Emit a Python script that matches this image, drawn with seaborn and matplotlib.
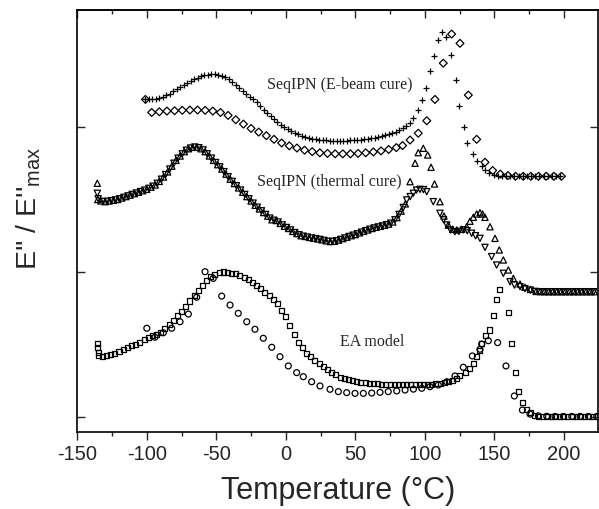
import numpy as np
import pandas as pd
import matplotlib
matplotlib.use("Agg")
import matplotlib.pyplot as plt
import seaborn as sns
from matplotlib.ticker import MultipleLocator, NullFormatter

# ---------------- data ----------------
# SeqIPN (E-beam cure), "+" series
ebeam_plus_T = [-101, -98.5, -96, -93.5, -91, -88.5, -86, -83.5, -81, -78.5, -76, -73.5, -71, -68.5,
                -66, -63.5, -61, -58.5, -56, -53.5, -51, -48.5, -46, -43.5, -41, -38.5, -36, -33.5,
                -31, -28.5, -26, -23.5, -21, -18.5, -16, -13.5, -11, -8.5, -6, -3.5, -1, 1.5, 4, 6.5,
                9, 11.5, 14, 16.5, 19, 21.5, 24, 26.5, 29, 31.5, 34, 36.5, 39, 41.5, 44, 46.5, 49,
                51.5, 54, 56.5, 59, 61.5, 64, 66.5, 69, 71.5, 74, 76.5, 79, 81.5, 84, 86.5, 89, 91.8,
                95.3, 97.8, 100.6, 103.7, 106.6, 109.7, 112.2, 115.3, 118.6, 122.4, 124.8, 128.2,
                130.6, 134.5, 137.3, 140.9, 143.5, 146.5, 149.5, 152.5, 155.5, 158.5, 161.5, 164.5,
                167.5, 170.5, 173.5, 176.5, 179.5, 182.5, 185.5, 188.5, 191.5, 194.5, 197.5]
ebeam_plus_v = [2.19, 2.19, 2.192, 2.195, 2.20, 2.21, 2.22, 2.23, 2.245, 2.26, 2.275, 2.29, 2.305, 2.32,
                2.33, 2.34, 2.35, 2.357, 2.362, 2.366, 2.366, 2.362, 2.355, 2.343, 2.33, 2.31, 2.29, 2.27,
                2.25, 2.23, 2.21, 2.19, 2.17, 2.145, 2.12, 2.10, 2.075, 2.055, 2.035, 2.015, 2.0, 1.985,
                1.972, 1.96, 1.95, 1.94, 1.932, 1.925, 1.92, 1.915, 1.912, 1.91, 1.908, 1.906, 1.905,
                1.905, 1.905, 1.905, 1.906, 1.907, 1.908, 1.91, 1.912, 1.915, 1.918, 1.922, 1.926, 1.93,
                1.936, 1.942, 1.95, 1.958, 1.968, 1.98, 1.995, 2.01, 2.03, 2.06, 2.117, 2.186, 2.27,
                2.388, 2.49, 2.60, 2.653, 2.623, 2.497, 2.324, 2.145, 2.002, 1.887, 1.812, 1.768, 1.731,
                1.705, 1.685, 1.672, 1.665, 1.662, 1.66, 1.66, 1.66, 1.66, 1.66, 1.66, 1.66, 1.66,
                1.66, 1.66, 1.66, 1.66, 1.66, 1.66]

# SeqIPN (E-beam cure), diamond series
ebeam_dia_T = [-101, -96.5, -91, -85.5, -80, -74.5, -69, -63.5, -58, -52.5, -47, -41.5, -36, -30.5, -25,
               -19.5, -14, -8.5, -3, 2.5, 8, 13.5, 19, 24.5, 30, 35.5, 41, 46.5, 52, 57.5, 63, 68.5, 74,
               79.5, 84, 89.4, 95.3, 101.4, 107.3, 113.3, 119.3, 125.3, 131.3, 137.3, 143.3, 148.8,
               154.3, 159.8, 165.3, 170.8, 176.3, 181.8, 187.3, 192.8, 198.3]
ebeam_dia_v = [2.19, 2.10, 2.105, 2.11, 2.112, 2.115, 2.117, 2.117, 2.115, 2.11, 2.10, 2.08, 2.05, 2.02,
               1.99, 1.965, 1.94, 1.915, 1.89, 1.87, 1.855, 1.84, 1.83, 1.822, 1.818, 1.815, 1.815, 1.815,
               1.818, 1.822, 1.828, 1.835, 1.845, 1.858, 1.872, 1.91, 1.957, 2.043, 2.19, 2.44, 2.641,
               2.577, 2.22, 1.915, 1.757, 1.70, 1.675, 1.665, 1.66, 1.66, 1.66, 1.66, 1.66, 1.66, 1.66]

# SeqIPN (thermal cure), up-triangle series
thermal_up_T = [-135.6, -135.3, -133, -130, -127, -124, -121, -118, -115, -112, -109, -106, -103, -100,
                -97, -94, -91, -88, -85, -82, -79, -76, -73, -70, -67, -64, -61, -58, -55, -52, -49, -46,
                -43, -40, -37, -34, -31, -28, -25, -22, -19, -16, -13, -10, -7, -4, -1, 2, 5, 8, 11, 14,
                17, 20, 23, 26, 29, 32, 35, 38, 41, 44, 47, 50, 53, 56, 59, 62, 65, 68, 71, 74, 77, 80,
                83, 86, 89.4, 93, 95.3, 98.9, 102.1, 104.5, 107, 110.9, 113.8, 116.9, 120, 123, 126.5,
                130.1, 132.5, 134.9, 137.3, 139.7, 141.5, 143.3, 146.9, 150.5, 153.6, 156.5, 160.1,
                163.7, 168.5, 172, 176, 180, 183, 186, 189, 192, 195, 198, 201, 204, 207, 210, 213, 216,
                219, 222]
thermal_up_v = [1.612, 1.50, 1.49, 1.485, 1.49, 1.495, 1.50, 1.51, 1.52, 1.53, 1.54, 1.55, 1.56, 1.57,
                1.585, 1.60, 1.625, 1.655, 1.69, 1.73, 1.77, 1.80, 1.83, 1.85, 1.86, 1.86, 1.85, 1.83,
                1.80, 1.77, 1.74, 1.71, 1.675, 1.64, 1.61, 1.58, 1.55, 1.52, 1.49, 1.46, 1.435, 1.41,
                1.385, 1.36, 1.355, 1.335, 1.315, 1.30, 1.28, 1.265, 1.25, 1.245, 1.238, 1.233, 1.228,
                1.222, 1.215, 1.21, 1.212, 1.22, 1.23, 1.24, 1.25, 1.258, 1.27, 1.28, 1.29, 1.30, 1.308,
                1.315, 1.322, 1.33, 1.345, 1.375, 1.42, 1.47, 1.623, 1.75, 1.823, 1.853, 1.807, 1.722,
                1.607, 1.485, 1.386, 1.324, 1.295, 1.29, 1.295, 1.312, 1.35, 1.377, 1.40, 1.409, 1.40,
                1.377, 1.312, 1.232, 1.152, 1.083, 1.014, 0.956, 0.917, 0.895, 0.88, 0.866, 0.865, 0.864,
                0.864, 0.864, 0.864, 0.864, 0.864, 0.864, 0.864, 0.864, 0.864, 0.864, 0.864, 0.864]

# SeqIPN (thermal cure), down-triangle series
thermal_down_T = [-135.6, -135.0, -131.5, -128.5, -125.5, -122.5, -119.5, -116.5, -113.5, -110.5, -107.5,
                  -104.5, -101.5, -98.5, -95.5, -92.5, -89.5, -86.5, -83.5, -80.5, -77.5, -74.5, -71.5,
                  -68.5, -65.5, -62.5, -59.5, -56.5, -53.5, -50.5, -47.5, -44.5, -41.5, -38.5, -35.5,
                  -32.5, -29.5, -26.5, -23.5, -20.5, -17.5, -14.5, -11.5, -8.5, -5.5, -2.5, 0.5, 3.5, 6.5,
                  9.5, 12.5, 15.5, 18.5, 21.5, 24.5, 27.5, 30.5, 33.5, 36.5, 39.5, 42.5, 45.5, 48.5, 51.5,
                  54.5, 57.5, 60.5, 63.5, 66.5, 69.5, 72.5, 75.5, 78.5, 81.5, 84.5, 87, 89.5, 91.7, 94,
                  96.5, 99, 101.4, 106.1, 110.9, 113.5, 115.8, 118.5, 121.7, 124.5, 127.7, 130.5, 133.7,
                  136.5, 139.7, 143.3, 148.1, 151.7, 156.5, 161.3, 164.5, 168.5, 172, 176, 179.5, 182.5,
                  185.5, 188.5, 191.5, 194.5, 197.5, 200.5, 203.5, 206.5, 209.5, 212.5, 215.5, 218.5, 221.5]
thermal_down_v = [1.543, 1.505, 1.487, 1.487, 1.492, 1.497, 1.505, 1.515, 1.525, 1.535, 1.545, 1.555,
                  1.565, 1.577, 1.592, 1.612, 1.64, 1.672, 1.71, 1.75, 1.785, 1.815, 1.84, 1.855, 1.862,
                  1.857, 1.842, 1.815, 1.785, 1.755, 1.725, 1.692, 1.657, 1.625, 1.595, 1.565, 1.535,
                  1.505, 1.475, 1.447, 1.422, 1.397, 1.372, 1.357, 1.345, 1.325, 1.307, 1.29, 1.272,
                  1.257, 1.247, 1.241, 1.235, 1.23, 1.225, 1.218, 1.212, 1.211, 1.216, 1.225, 1.235,
                  1.245, 1.254, 1.264, 1.275, 1.285, 1.295, 1.304, 1.311, 1.318, 1.326, 1.337, 1.36,
                  1.397, 1.445, 1.497, 1.52, 1.543, 1.565, 1.57, 1.568, 1.554, 1.485, 1.405, 1.36, 1.324,
                  1.29, 1.278, 1.28, 1.29, 1.285, 1.267, 1.25, 1.232, 1.17, 1.106, 1.048, 0.991, 0.933,
                  0.91, 0.899, 0.885, 0.875, 0.866, 0.864, 0.864, 0.864, 0.864, 0.864, 0.864, 0.864,
                  0.864, 0.864, 0.864, 0.864, 0.864, 0.864, 0.864]

# EA model, square series
ea_sq_T = [-135.3, -135.3, -135.0, -134.9, -132, -129, -126, -123, -120, -117, -114, -111, -108, -105,
           -102, -99, -96, -93, -90, -87, -84, -81, -78, -75, -72, -69, -66, -63, -60, -57, -54, -51, -48,
           -45, -42, -39, -36, -33, -30, -27, -24, -21, -18, -15, -12, -9, -6, -3, 0, 3, 6, 9, 12, 15, 18,
           21, 24, 27, 30, 33, 36, 39, 42, 45, 48, 51, 54, 57, 60, 63, 66, 69, 72, 75, 78, 81, 84, 87, 90,
           93, 96, 99, 102, 105, 108, 111, 114, 117, 120, 122.5, 125.3, 129, 132.5, 135, 137.3, 139.5,
           141, 143.5, 146.4, 149.3, 151.7, 153.6, 160.1, 162.5, 165.3, 167.3, 170, 173, 176, 179, 182,
           185, 188, 191, 194, 197, 200, 203, 206, 209, 212, 215, 218, 221, 224]
ea_sq_v = [0.508, 0.481, 0.445, 0.421, 0.418, 0.421, 0.43, 0.44, 0.452, 0.463, 0.476, 0.49, 0.503, 0.517,
           0.532, 0.547, 0.56, 0.572, 0.585, 0.61, 0.64, 0.668, 0.698, 0.728, 0.765, 0.80, 0.835, 0.87,
           0.91, 0.943, 0.968, 0.985, 0.995, 1.0, 0.999, 0.993, 0.987, 0.979, 0.965, 0.948, 0.925, 0.905,
           0.885, 0.862, 0.838, 0.81, 0.78, 0.735, 0.69, 0.634, 0.57, 0.515, 0.478, 0.44, 0.415, 0.39,
           0.37, 0.35, 0.33, 0.308, 0.29, 0.275, 0.265, 0.257, 0.25, 0.245, 0.24, 0.237, 0.234, 0.231,
           0.228, 0.226, 0.225, 0.224, 0.223, 0.222, 0.221, 0.221, 0.221, 0.221, 0.221, 0.222, 0.223,
           0.225, 0.228, 0.232, 0.237, 0.243, 0.255, 0.268, 0.283, 0.31, 0.336, 0.37, 0.416, 0.46, 0.508,
           0.56, 0.60, 0.697, 0.807, 0.88, 0.72, 0.508, 0.31, 0.175, 0.10, 0.053, 0.03, 0.012, 0.004,
           0.002, 0.002, 0.002, 0.002, 0.002, 0.002, 0.002, 0.002, 0.002, 0.002, 0.002, 0.002, 0.002,
           0.002]

# EA model, circle series
ea_circ_T = [-100, -94.1, -88.1, -82.1, -76.1, -70.1, -64.1, -58.1, -52.2, -46.1, -40.1, -34.2, -28.1,
             -22.2, -16.2, -10.1, -4.2, 1.8, 7.8, 12.6, 18.6, 24.6, 31.8, 37.8, 43.8, 49.8, 55.8, 61.8,
             67.8, 73.7, 79.8, 85.8, 91.8, 97.8, 103.7, 109.7, 115.8, 121.7, 127.7, 134.2, 139.7, 140.9,
             145.7, 152.4, 158.4, 164.4, 170.2, 175.7, 181.7, 187.7, 193.7, 199.7, 205.7, 211.7, 217.7,
             223.7]
ea_circ_v = [0.612, 0.55, 0.581, 0.612, 0.657, 0.71, 0.826, 1.002, 0.956, 0.834, 0.772, 0.715, 0.657,
             0.605, 0.543, 0.481, 0.416, 0.352, 0.306, 0.278, 0.243, 0.214, 0.191, 0.175, 0.168, 0.163,
             0.163, 0.165, 0.17, 0.175, 0.18, 0.186, 0.192, 0.198, 0.209, 0.221, 0.243, 0.283, 0.343,
             0.421, 0.467, 0.503, 0.526, 0.513, 0.352, 0.145, 0.048, 0.02, 0.008, 0.005, 0.004, 0.004,
             0.004, 0.004, 0.004, 0.004]

x_ticks = [-150, -100, -50, 0, 50, 100, 150, 200]
x_tick_labels = ["-150", "-100", "-50", "0", "50", "100", "150", "200"]
y_ticks = [0, 1, 2]
curve_labels = ["SeqIPN (E-beam cure)", "SeqIPN (thermal cure)", "EA model"]

# ---------------- figure ----------------
sns.set_style("ticks")
plt.rcParams["font.family"] = ["Liberation Sans", "DejaVu Sans"]
plt.rcParams["axes.unicode_minus"] = False
plt.rcParams["mathtext.default"] = "regular"

fig = plt.figure(figsize=(5.99, 5.09), dpi=100)
ax = fig.add_axes([77.3 / 599, 1 - 432 / 509, (598 - 77.3) / 599, (432 - 10) / 509])

edge = "black"
lw = 0.9
series = [
    (ebeam_plus_T, ebeam_plus_v, "+", 18, True),
    (ebeam_dia_T, ebeam_dia_v, "D", 16, False),
    (thermal_up_T, thermal_up_v, "^", 20, False),
    (thermal_down_T, thermal_down_v, "v", 20, False),
    (ea_sq_T, ea_sq_v, "s", 13, False),
    (ea_circ_T, ea_circ_v, "o", 18, False),
]
for T, v, m, s, unfilled in series:
    df = pd.DataFrame({"T": T, "v": v})
    if unfilled:
        sns.scatterplot(data=df, x="T", y="v", marker=m, s=s, color=edge, linewidth=0.9, ax=ax,
                        legend=False)
    else:
        sns.scatterplot(data=df, x="T", y="v", marker=m, s=s, facecolors="none", edgecolor=edge,
                        linewidth=lw, ax=ax, legend=False)

ax.set_xlim(-150, 224.6)
ax.set_ylim((417 - 432) / 145, (417 - 10) / 145)

ax.set_xticks(x_ticks)
ax.set_xticklabels(x_tick_labels)
ax.xaxis.set_minor_locator(MultipleLocator(25))
ax.set_yticks(y_ticks)
ax.yaxis.set_major_formatter(NullFormatter())

ax.tick_params(axis="x", which="major", direction="out", length=5.5, width=1.0, labelsize=14.5,
               pad=4, bottom=True, top=False)
ax.tick_params(axis="x", which="minor", direction="out", length=3, width=1.0, bottom=True, top=False)
ax.tick_params(axis="y", which="major", direction="in", length=5.5, width=1.0, left=True, right=True,
               labelleft=False)

sec = ax.secondary_xaxis("top")
sec.set_xticks(x_ticks)
sec.xaxis.set_minor_locator(MultipleLocator(25))
sec.tick_params(axis="x", which="major", direction="in", length=5.5, width=1.0, labeltop=False)
sec.tick_params(axis="x", which="minor", direction="in", length=3, width=1.0)

for sp in ax.spines.values():
    sp.set_linewidth(1.2)
    sp.set_color("black")
    sp.set_visible(True)
sec.spines["top"].set_linewidth(1.2)

ax.set_xlabel("Temperature (°C)", fontsize=22)
ax.xaxis.set_label_coords(0.5007, -0.105)
ax.set_ylabel("E'' / E''$_{max}$", fontsize=20.5)
ax.yaxis.set_label_coords(-0.065, 0.53)

serif = ["Liberation Serif", "DejaVu Serif"]
ax.text(-13.6, 2.29, curve_labels[0], family=serif, fontsize=11.5, ha="left", va="center")
ax.text(-20.8, 1.623, curve_labels[1], family=serif, fontsize=11.5, ha="left", va="center")
ax.text(39.2, 0.519, curve_labels[2], family=serif, fontsize=11.5, ha="left", va="center")

fig.savefig("out.png", dpi=100)
